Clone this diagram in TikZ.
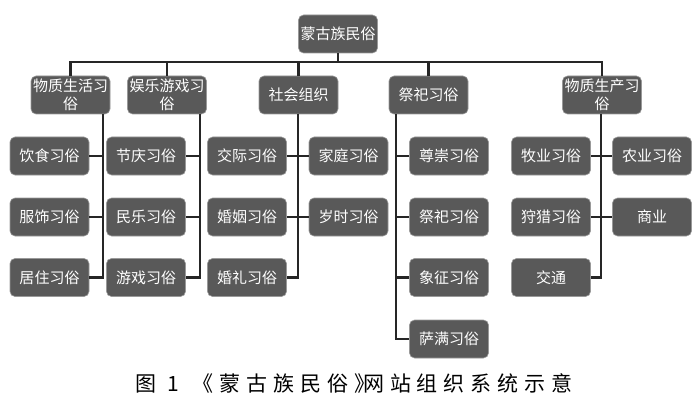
\documentclass[tikz,border=0pt]{standalone}
\usepackage{fontspec}
\setmainfont{Noto Sans CJK SC}
\usetikzlibrary{positioning}

\begin{document}
\begin{tikzpicture}[x=1pt,y=-1pt,
    box/.style={draw=black!40, line width=0.6pt, fill=black!65, text=white,
      rounded corners=5pt, minimum width=79pt, minimum height=38pt,
      inner sep=1pt, align=center, font=\fontsize{15}{18}\selectfont},
    link/.style={draw=black!85, line width=2.8pt}]
  \useasboundingbox (0,0) rectangle (700,406);

  % Racine
  \node[box] (root) at (338,34) {蒙古族民俗};

  % Premier niveau
  \node[box] (life) at (70.5,95) {物质生活习\\俗};
  \node[box] (play) at (167,95) {娱乐游戏习\\俗};
  \node[box] (soc) at (298.5,95) {社会组织};
  \node[box] (rite) at (428.5,95) {祭祀习俗};
  \node[box] (prod) at (602,95) {物质生产习\\俗};

  % Deuxième niveau
  \node[box] (food) at (49.5,156) {饮食习俗};
  \node[box] (dress) at (49.5,217) {服饰习俗};
  \node[box] (house) at (49.5,277.5) {居住习俗};

  \node[box] (fest) at (146,156) {节庆习俗};
  \node[box] (music) at (146,217) {民乐习俗};
  \node[box] (game) at (146,277.5) {游戏习俗};

  \node[box] (meet) at (247,156) {交际习俗};
  \node[box] (marry) at (247,217) {婚姻习俗};
  \node[box] (wed) at (247,277.5) {婚礼习俗};
  \node[box] (home) at (348.5,156) {家庭习俗};
  \node[box] (year) at (348.5,217) {岁时习俗};

  \node[box] (honor) at (449,156) {尊崇习俗};
  \node[box] (offer) at (449,217) {祭祀习俗};
  \node[box] (sign) at (449,277.5) {象征习俗};
  \node[box] (saman) at (449,339) {萨满习俗};

  \node[box] (herd) at (551,156) {牧业习俗};
  \node[box] (hunt) at (551,217) {狩猎习俗};
  \node[box] (road) at (551,277.5) {交通};
  \node[box] (farm) at (652,156) {农业习俗};
  \node[box] (trade) at (652,217) {商业};

  % Barre horizontale
  \coordinate (bus) at (338,62);
  \draw[link] (root.south) -- (bus);
  \draw[link] (life.north) |- (bus) -| (prod.north);
  \draw[link] (play.north) -- (play.north |- bus);
  \draw[link] (soc.north) -- (soc.north |- bus);
  \draw[link] (rite.north) -- (rite.north |- bus);

  % Troncs verticaux
  \coordinate (t1) at (103,114);
  \coordinate (t2) at (200,114);
  \coordinate (t3) at (298,114);
  \coordinate (t4) at (396,114);
  \coordinate (t5) at (601,114);

  \draw[link] (t1) |- (house.east);
  \draw[link] (food.east) -- (food.east -| t1);
  \draw[link] (dress.east) -- (dress.east -| t1);

  \draw[link] (t2) |- (game.east);
  \draw[link] (fest.east) -- (fest.east -| t2);
  \draw[link] (music.east) -- (music.east -| t2);

  \draw[link] (t3) |- (wed.east);
  \draw[link] (meet.east) -- (home.west);
  \draw[link] (marry.east) -- (year.west);

  \draw[link] (t4) |- (saman.west);
  \draw[link] (honor.west) -- (honor.west -| t4);
  \draw[link] (offer.west) -- (offer.west -| t4);
  \draw[link] (sign.west) -- (sign.west -| t4);

  \draw[link] (t5) |- (road.east);
  \draw[link] (herd.east) -- (farm.west);
  \draw[link] (hunt.east) -- (trade.west);

  % Légende
  \node[font=\fontsize{21}{22}\selectfont\addfontfeature{LetterSpace=28}] (cap) at (354,383)
    {图\ 1\hspace{14pt}《蒙古族民俗》\hspace{-12pt}网站组织系统示意};
\end{tikzpicture}
\end{document}
